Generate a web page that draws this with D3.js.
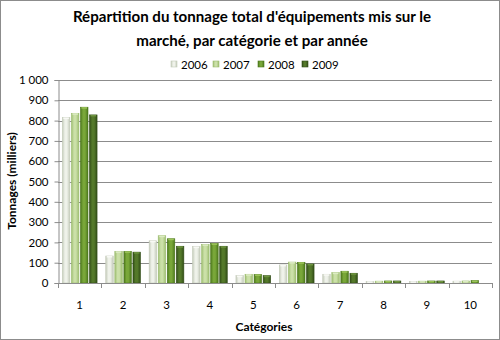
<!DOCTYPE html>
<html>
<head>
<meta charset="utf-8">
<script src="https://cdn.jsdelivr.net/npm/d3@7"></script>
<style>
  html, body { margin: 0; padding: 0; background: #fff; }
  svg { display: block; }
  text { font-family: Lato, "Open Sans", sans-serif; fill: #000; }
</style>
</head>
<body>
<svg id="chart" width="500" height="340"></svg>
<script>
// Tonnage of equipment put on the market (thousands of tonnes), by category and year
const categories = ["1", "2", "3", "4", "5", "6", "7", "8", "9", "10"];
const years = ["2006", "2007", "2008", "2009"];
const values2006 = [815, 133, 208, 179, 36, 89, 43, 8, 8, 9];
const values2007 = [836, 156, 233, 190, 43, 103, 51, 9, 9, 10];
const values2008 = [866, 156, 218, 195, 42, 102, 58, 10, 10, 12];
const values2009 = [828, 152, 181, 181, 36, 94, 48, 10, 10, 0];
const yTicks = [0, 100, 200, 300, 400, 500, 600, 700, 800, 900, 1000];

const seriesValues = [values2006, values2007, values2008, values2009];
const palette = [
  { edge: "#c4cbba", mid: "#eff2ea", cap: "#f8f9f5" },
  { edge: "#9dbd70", mid: "#cbe0a8", cap: "#dcebc4" },
  { edge: "#4c781c", mid: "#79a739", cap: "#9cc45a" },
  { edge: "#324e18", mid: "#54792a", cap: "#6f9540" }
];

const svg = d3.select("#chart");
const W = 500, H = 340;
const margin = { left: 58, right: 8, top: 80, bottom: 57 };
const plotRight = W - margin.right;
const plotBottom = H - margin.bottom;

// outer frame
svg.append("rect")
  .attr("x", 0.5).attr("y", 0.5)
  .attr("width", W - 1).attr("height", H - 1)
  .attr("fill", "#fff").attr("stroke", "#8c8c8c");

// gradients for the rounded bar look
const defs = svg.append("defs");
palette.forEach((c, i) => {
  const g = defs.append("linearGradient").attr("id", "bar" + i)
    .attr("x1", "0%").attr("x2", "100%").attr("y1", "0%").attr("y2", "0%");
  g.append("stop").attr("offset", "0%").attr("stop-color", c.edge);
  g.append("stop").attr("offset", "35%").attr("stop-color", c.mid);
  g.append("stop").attr("offset", "60%").attr("stop-color", c.mid);
  g.append("stop").attr("offset", "100%").attr("stop-color", c.edge);
});

const x0 = d3.scaleBand().domain(categories)
  .range([margin.left, plotRight]).paddingInner(0.2).paddingOuter(0.1);
const x1 = d3.scaleBand().domain(years)
  .range([0, x0.bandwidth()]).paddingInner(0.17);
const xTickScale = d3.scaleLinear().domain([0, categories.length])
  .range([margin.left, plotRight]);
const y = d3.scaleLinear().domain([0, 1000]).range([plotBottom, margin.top]);

// horizontal gridlines
svg.append("g").selectAll("line")
  .data(yTicks.filter(d => d > 0))
  .join("line")
  .attr("x1", margin.left).attr("x2", plotRight)
  .attr("y1", d => Math.round(y(d)) + 0.5).attr("y2", d => Math.round(y(d)) + 0.5)
  .attr("stroke", "#8c8c8c").attr("stroke-width", 1);

// y axis
const fmt = d => d3.format(",")(d).replace(/,/g, "\u00a0");
const yAxis = svg.append("g")
  .attr("transform", `translate(${margin.left + 0.5},0)`)
  .call(d3.axisLeft(y).tickValues(yTicks).tickSize(4).tickPadding(6).tickFormat(fmt));
yAxis.select(".domain").attr("stroke", "#8c8c8c");
yAxis.selectAll(".tick line").attr("stroke", "#8c8c8c");
yAxis.selectAll(".tick text").attr("font-size", 11.5).attr("font-family", "Lato, sans-serif");

// bars
const groups = svg.append("g").selectAll("g")
  .data(categories)
  .join("g")
  .attr("transform", d => `translate(${x0(d)},0)`);

groups.selectAll("rect.bar")
  .data((cat, ci) => years.map((yr, si) => ({ yr, si, v: seriesValues[si][ci] })))
  .join("rect")
  .attr("class", "bar")
  .attr("x", d => x1(d.yr))
  .attr("width", x1.bandwidth())
  .attr("y", d => y(d.v))
  .attr("height", d => plotBottom - y(d.v))
  .attr("fill", d => `url(#bar${d.si})`)
  .attr("stroke", d => palette[d.si].edge)
  .attr("stroke-width", 0.6)
  .attr("display", d => d.v > 0 ? null : "none");

// light cap at the top of each bar
groups.selectAll("rect.cap")
  .data((cat, ci) => years.map((yr, si) => ({ yr, si, v: seriesValues[si][ci] })))
  .join("rect")
  .attr("class", "cap")
  .attr("x", d => x1(d.yr) + 1)
  .attr("width", x1.bandwidth() - 2)
  .attr("y", d => y(d.v))
  .attr("height", 1.5)
  .attr("fill", d => palette[d.si].cap)
  .attr("display", d => d.v > 0 ? null : "none");

// x axis line and category ticks
svg.append("line")
  .attr("x1", margin.left).attr("x2", plotRight)
  .attr("y1", plotBottom + 0.5).attr("y2", plotBottom + 0.5)
  .attr("stroke", "#8c8c8c");
svg.append("g").selectAll("line")
  .data(d3.range(categories.length + 1))
  .join("line")
  .attr("x1", d => Math.round(xTickScale(d)) + 0.5)
  .attr("x2", d => Math.round(xTickScale(d)) + 0.5)
  .attr("y1", plotBottom).attr("y2", plotBottom + 5)
  .attr("stroke", "#8c8c8c");

svg.append("g").selectAll("text")
  .data(categories)
  .join("text")
  .attr("x", d => x0(d) + x0.bandwidth() / 2)
  .attr("y", 309)
  .attr("text-anchor", "middle")
  .attr("font-size", 11.5)
  .text(d => d);

// axis titles
svg.append("text")
  .attr("x", 264).attr("y", 331)
  .attr("text-anchor", "middle")
  .attr("font-size", 12).attr("font-weight", "bold")
  .text("Catégories");

svg.append("text")
  .attr("transform", "translate(16,181) rotate(-90)")
  .attr("text-anchor", "middle")
  .attr("font-size", 12).attr("font-weight", "bold")
  .text("Tonnages (milliers)");

// title
const title = svg.append("text")
  .attr("text-anchor", "middle")
  .attr("font-size", 15.1).attr("font-weight", "bold");
title.append("tspan").attr("x", 252).attr("y", 22)
  .text("Répartition du tonnage total d'équipements mis sur le");
title.append("tspan").attr("x", 252).attr("y", 46)
  .text("marché, par catégorie et par année");

// legend
const legendX = [171, 213, 258, 302];
const legend = svg.append("g").selectAll("g")
  .data(years)
  .join("g")
  .attr("transform", (d, i) => `translate(${legendX[i]},61)`);
legend.append("rect")
  .attr("width", 6).attr("height", 6)
  .attr("fill", (d, i) => `url(#bar${i})`)
  .attr("stroke", (d, i) => palette[i].edge)
  .attr("stroke-width", 0.6);
legend.append("text")
  .attr("x", 10).attr("y", 7.5)
  .attr("font-size", 11.5)
  .text(d => d);
</script>
</body>
</html>
